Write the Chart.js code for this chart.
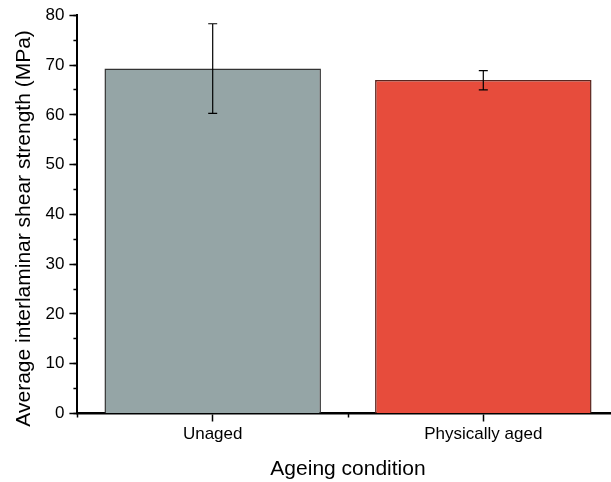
<!DOCTYPE html>
<html>
<head>
<meta charset="utf-8">
<script src="https://cdn.jsdelivr.net/npm/chart.js@4"></script>
<style>
  html, body { margin: 0; padding: 0; overflow: hidden; background: #fff; }
</style>
</head>
<body>
<canvas id="c" width="620" height="482"></canvas>
<script>
// données
var labels = ['Unaged', 'Physically aged'];
var strength = [69.3, 67.0];
var errLow = [60.3, 65.0];
var errHigh = [78.3, 68.9];
var barColors = ['#95a5a6', '#e74c3c'];
var edgeColors = ['#333333', '#5a2620'];

var fam = '"Liberation Sans", Arial, Helvetica, sans-serif';

// barres d'erreur dessinées à partir de l'échelle y
var errorBars = {
  id: 'errorBars',
  afterDatasetsDraw: function (chart) {
    var ctx = chart.ctx, y = chart.scales.y;
    var meta = chart.getDatasetMeta(0);
    ctx.save();
    ctx.strokeStyle = '#000';
    ctx.lineWidth = 1.2;
    meta.data.forEach(function (bar, i) {
      var x = bar.x;
      var top = y.getPixelForValue(errHigh[i]);
      var bot = y.getPixelForValue(errLow[i]);
      ctx.beginPath();
      ctx.moveTo(x, top); ctx.lineTo(x, bot);
      ctx.moveTo(x - 4.5, top); ctx.lineTo(x + 4.5, top);
      ctx.moveTo(x - 4.5, bot); ctx.lineTo(x + 4.5, bot);
      ctx.stroke();
    });
    ctx.restore();
  }
};

// titre de l'axe y (un peu décalé vers le bas comme dans l'original)
var yTitle = {
  id: 'yTitle',
  afterDraw: function (chart) {
    var ctx = chart.ctx, a = chart.chartArea;
    ctx.save();
    ctx.translate(24, (a.top + a.bottom) / 2 + 14);
    ctx.rotate(-Math.PI / 2);
    ctx.font = '21px ' + fam;
    ctx.fillStyle = '#000';
    ctx.textAlign = 'center';
    ctx.textBaseline = 'middle';
    ctx.fillText('Average interlaminar shear strength (MPa)', 0, 0);
    ctx.restore();
  }
};

var data = {
  labels: labels,
  datasets: [{
    data: strength,
    backgroundColor: barColors,
    borderColor: edgeColors,
    borderWidth: 1.5,
    categoryPercentage: 0.8,
    barPercentage: 1.0
  }]
};

var options = {
  responsive: false,
  animation: false,
  layout: { padding: { left: 0, right: 1.4, top: 15.3, bottom: 0 } },
  plugins: { legend: { display: false }, tooltip: { enabled: false } },
  scales: {
    x: {
      weight: 1,
      offset: true,
      grid: { drawOnChartArea: false, offset: false, tickLength: 8, tickWidth: 1.5, tickColor: '#000' },
      border: { color: '#000', width: 2.5 },
      ticks: { color: '#000', font: { family: fam, size: 17 }, padding: 3 },
      title: { display: true, text: 'Ageing condition', color: '#000',
               font: { family: fam, size: 21 }, padding: { top: 0, bottom: 0 } },
      afterFit: function (s) { s.height = 68.5; }
    },
    x2: {
      type: 'category',
      labels: labels,
      position: 'bottom',
      weight: 0,
      offset: true,
      grid: { drawOnChartArea: false, offset: true, tickLength: 4, tickWidth: 1.5, tickColor: '#000' },
      border: { display: false },
      ticks: { display: false },
      afterFit: function (s) { s.height = 0; }
    },
    y: {
      weight: 1,
      min: 0,
      max: 80,
      ticks: { stepSize: 10, color: '#000', font: { family: fam, size: 17 }, padding: 5 },
      grid: { drawOnChartArea: false, tickLength: 8, tickWidth: 1.5, tickColor: '#000' },
      border: { color: '#000', width: 2 },
      afterFit: function (s) { s.width = 77.4; }
    },
    y2: {
      position: 'left',
      weight: 0,
      min: 0,
      max: 80,
      ticks: { display: false, stepSize: 5 },
      grid: { drawOnChartArea: false, tickLength: 4, tickWidth: 1.5, tickColor: '#000' },
      border: { display: false },
      afterFit: function (s) { s.width = 0; }
    }
  }
};

new Chart(document.getElementById('c'), {
  type: 'bar',
  data: data,
  options: options,
  plugins: [errorBars, yTitle]
});
</script>
</body>
</html>
